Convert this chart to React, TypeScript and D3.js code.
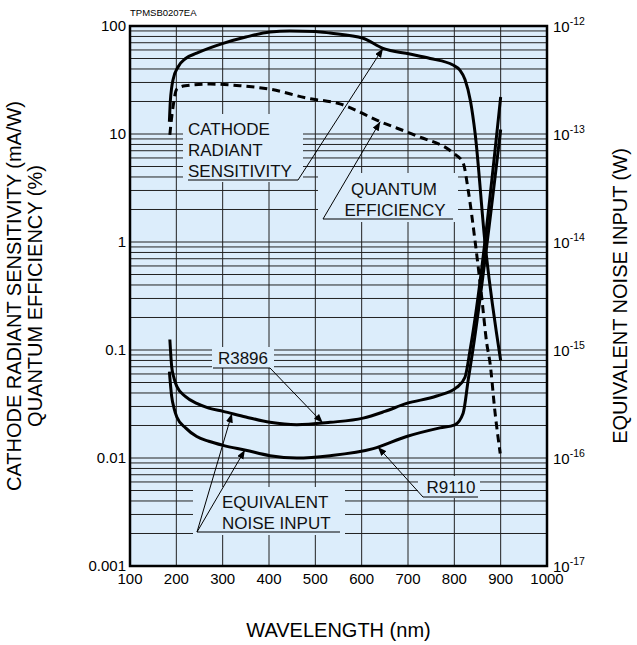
import React from "react";
import * as d3 from "d3";

// cathode radiant sensitivity (mA/W) vs wavelength (nm)
const csWl = [185, 187, 190, 193, 204, 220, 244, 301, 350, 402, 445, 500, 532, 603, 646, 704, 748, 797, 812, 823, 835, 845, 866, 900];
const csVal = [13, 20, 27, 32, 42, 50, 56, 69, 79, 88, 90, 89, 86, 77, 62, 55, 50, 43.5, 39, 32, 20, 10, 1, 0.08];

// quantum efficiency (%)
const qeWl = [186, 188, 193, 201, 219, 273, 337, 402, 482, 553, 640, 719, 797, 819, 830, 845, 859, 870, 877, 888, 899];
const qeVal = [9.8, 12, 18, 26, 28, 29, 28, 26, 21.5, 19, 13, 9.6, 6.7, 5.4, 3.0, 1.0, 0.31, 0.115, 0.076, 0.026, 0.011];

// equivalent noise input (W)
const r3896Wl = [186, 190, 195, 201, 220, 244, 270, 301, 350, 402, 460, 532, 603, 650, 697, 762, 805, 823, 834, 900];
const r3896Eni = [1.25e-15, 7e-16, 5.5e-16, 4.6e-16, 3.7e-16, 3.2e-16, 2.9e-16, 2.7e-16, 2.4e-16, 2.14e-16, 2.03e-16, 2.14e-16, 2.34e-16, 2.7e-16, 3.2e-16, 3.75e-16, 4.5e-16, 5.6e-16, 1e-15, 2.2e-13];

const r9110Wl = [185, 190, 195, 201, 220, 244, 270, 301, 350, 402, 460, 532, 625, 697, 769, 801, 819, 830, 840, 900];
const r9110Eni = [6.3e-16, 3.7e-16, 2.9e-16, 2.4e-16, 1.9e-16, 1.58e-16, 1.43e-16, 1.31e-16, 1.18e-16, 1.05e-16, 1.0e-16, 1.05e-16, 1.22e-16, 1.58e-16, 1.9e-16, 2.03e-16, 2.6e-16, 5.3e-16, 1e-15, 1.1e-13];

const xTicks = [100, 200, 300, 400, 500, 600, 700, 800, 900, 1000];
const yTicks = [100, 10, 1, 0.1, 0.01, 0.001];
const yTickLabels = ["100", "10", "1", "0.1", "0.01", "0.001"];
const rightExps = ["-12", "-13", "-14", "-15", "-16", "-17"];

const width = 637;
const height = 645;
const margin = { top: 26, right: 90, bottom: 79, left: 130 };
const bg = "#dcedfb";
const font = "'Liberation Sans', Arial, Helvetica, sans-serif";

// log-space interpolation to place arrow tips on a curve
function valueAt(wl: number[], vals: number[], w: number) {
  for (let i = 0; i < wl.length - 1; i++) {
    if (w >= wl[i] && w <= wl[i + 1]) {
      const t = (w - wl[i]) / (wl[i + 1] - wl[i]);
      return Math.pow(10, Math.log10(vals[i]) * (1 - t) + Math.log10(vals[i + 1]) * t);
    }
  }
  return vals[vals.length - 1];
}

const App = () => {
  const x0 = margin.left;
  const x1 = width - margin.right;
  const y0 = margin.top;
  const y1 = height - margin.bottom;

  const xScale = d3.scaleLinear().domain([100, 1000]).range([x0, x1]);
  const yScale = d3.scaleLog().domain([0.001, 100]).range([y1, y0]);
  const yRight = d3.scaleLog().domain([1e-17, 1e-12]).range([y1, y0]);

  const gridY: number[] = [];
  for (let d = -3; d <= 1; d++) {
    for (let k = 1; k <= 9; k++) {
      const v = k * Math.pow(10, d);
      if (v > 0.001 && v < 100) gridY.push(v);
    }
  }

  const line = (wl: number[], vals: number[], ys: any) =>
    d3.line<number>()
      .x((d, i) => xScale(wl[i]))
      .y((d) => ys(d))
      .curve(d3.curveMonotoneX)(vals) || "";

  const tip = (wl: number[], vals: number[], ys: any, w: number): [number, number] => [xScale(w), ys(valueAt(wl, vals, w))];

  const csTip = tip(csWl, csVal, yScale, 646);
  const qeTip = tip(qeWl, qeVal, yScale, 640);
  const r3896Tip = tip(r3896Wl, r3896Eni, yRight, 516);
  const r9110Tip = tip(r9110Wl, r9110Eni, yRight, 635);
  const eniTipA = tip(r3896Wl, r3896Eni, yRight, 320);
  const eniTipB = tip(r9110Wl, r9110Eni, yRight, 348);

  const labelStyle = { fontFamily: font, fontSize: 17, fill: "#111" };

  return (
    <svg width={width} height={height} style={{ position: "absolute", left: 0, top: 0, background: "#fff" }}>
      <defs>
        <marker id="arr" markerUnits="userSpaceOnUse" markerWidth={10} markerHeight={8} refX={9} refY={3.5} orient="auto">
          <path d="M0,0 L9,3.5 L0,7 Z" fill="#000" />
        </marker>
        <clipPath id="plot">
          <rect x={x0} y={y0} width={x1 - x0} height={y1 - y0} />
        </clipPath>
      </defs>

      <text x={x0} y={16} style={{ fontFamily: font, fontSize: 9.5 }}>TPMSB0207EA</text>

      <rect x={x0} y={y0} width={x1 - x0} height={y1 - y0} fill={bg} />

      {/* grid */}
      {gridY.map((v, i) => (
        <line key={"gy" + i} x1={x0} x2={x1} y1={yScale(v)} y2={yScale(v)} stroke="#222" strokeWidth={1} />
      ))}
      {xTicks.slice(1, -1).map((v, i) => (
        <line key={"gx" + i} x1={xScale(v)} x2={xScale(v)} y1={y0} y2={y1} stroke="#222" strokeWidth={1} />
      ))}

      {/* label backgrounds hiding grid */}
      <rect x={183} y={114} width={120} height={68} fill={bg} />
      <rect x={318} y={173} width={140} height={49} fill={bg} />
      <rect x={212} y={347} width={62} height={21} fill={bg} />
      <rect x={418} y={476} width={62} height={22} fill={bg} />
      <rect x={193} y={487} width={152} height={48} fill={bg} />

      {/* curves */}
      <g clipPath="url(#plot)" fill="none" stroke="#000" strokeWidth={3} strokeLinejoin="round">
        <path d={line(csWl, csVal, yScale)} />
        <path d={line(qeWl, qeVal, yScale)} strokeDasharray="8 5" />
        <path d={line(r3896Wl, r3896Eni, yRight)} />
        <path d={line(r9110Wl, r9110Eni, yRight)} />
      </g>

      {/* labels */}
      <g style={labelStyle}>
        <text x={188} y={135}>CATHODE</text>
        <text x={188} y={156}>RADIANT</text>
        <text x={188} y={177}>SENSITIVITY</text>
        <text x={394} y={195} textAnchor="middle">QUANTUM</text>
        <text x={395} y={216} textAnchor="middle">EFFICIENCY</text>
        <text x={243} y={364} textAnchor="middle">R3896</text>
        <text x={451} y={493} textAnchor="middle">R9110</text>
        <text x={222} y={508}>EQUIVALENT</text>
        <text x={222} y={529}>NOISE INPUT</text>
      </g>
      <g stroke="#000" strokeWidth={1} fill="none">
        <line x1={188} y1={180} x2={298} y2={180} />
        <line x1={298} y1={180} x2={csTip[0]} y2={csTip[1]} markerEnd="url(#arr)" />
        <line x1={323} y1={219} x2={453} y2={219} />
        <line x1={323} y1={219} x2={qeTip[0]} y2={qeTip[1]} markerEnd="url(#arr)" />
        <line x1={213} y1={368} x2={270} y2={368} />
        <line x1={270} y1={368} x2={r3896Tip[0]} y2={r3896Tip[1]} markerEnd="url(#arr)" />
        <line x1={423} y1={497} x2={478} y2={497} />
        <line x1={423} y1={497} x2={r9110Tip[0]} y2={r9110Tip[1]} markerEnd="url(#arr)" />
        <line x1={197} y1={532} x2={340} y2={532} />
        <line x1={197} y1={532} x2={eniTipA[0]} y2={eniTipA[1]} markerEnd="url(#arr)" />
        <line x1={197} y1={532} x2={eniTipB[0]} y2={eniTipB[1]} markerEnd="url(#arr)" />
      </g>

      <rect x={x0} y={y0} width={x1 - x0} height={y1 - y0} fill="none" stroke="#000" strokeWidth={2.5} />

      {/* left axis */}
      {yTicks.map((v, i) => (
        <text key={"yl" + i} x={x0 - 4} y={yScale(v)} dy="0.35em" textAnchor="end" style={{ fontFamily: font, fontSize: 15 }}>
          {yTickLabels[i]}
        </text>
      ))}
      {/* right axis */}
      {rightExps.map((e, i) => (
        <text key={"yr" + i} x={x1 + 6} y={yRight(Math.pow(10, -12 - i))} dy="0.4em" style={{ fontFamily: font, fontSize: 15 }}>
          10<tspan dy="-7" fontSize={10.5}>{e}</tspan>
        </text>
      ))}
      {/* x axis */}
      {xTicks.map((v, i) => (
        <text key={"xl" + i} x={xScale(v)} y={y1 + 18} textAnchor="middle" style={{ fontFamily: font, fontSize: 15 }}>
          {v}
        </text>
      ))}

      <text x={(x0 + x1) / 2} y={637} textAnchor="middle" style={{ fontFamily: font, fontSize: 20 }}>WAVELENGTH (nm)</text>
      <g transform={`translate(21, ${(y0 + y1) / 2}) rotate(-90)`}>
        <text x={0} y={0} textAnchor="middle" style={{ fontFamily: font, fontSize: 20 }}>CATHODE RADIANT SENSITIVITY (mA/W)</text>
        <text x={0} y={21} textAnchor="middle" style={{ fontFamily: font, fontSize: 20 }}>QUANTUM EFFICIENCY (%)</text>
      </g>
      <g transform={`translate(627, ${(y0 + y1) / 2}) rotate(-90)`}>
        <text x={0} y={0} textAnchor="middle" style={{ fontFamily: font, fontSize: 20 }}>EQUIVALENT NOISE INPUT (W)</text>
      </g>
    </svg>
  );
};

export default App;
